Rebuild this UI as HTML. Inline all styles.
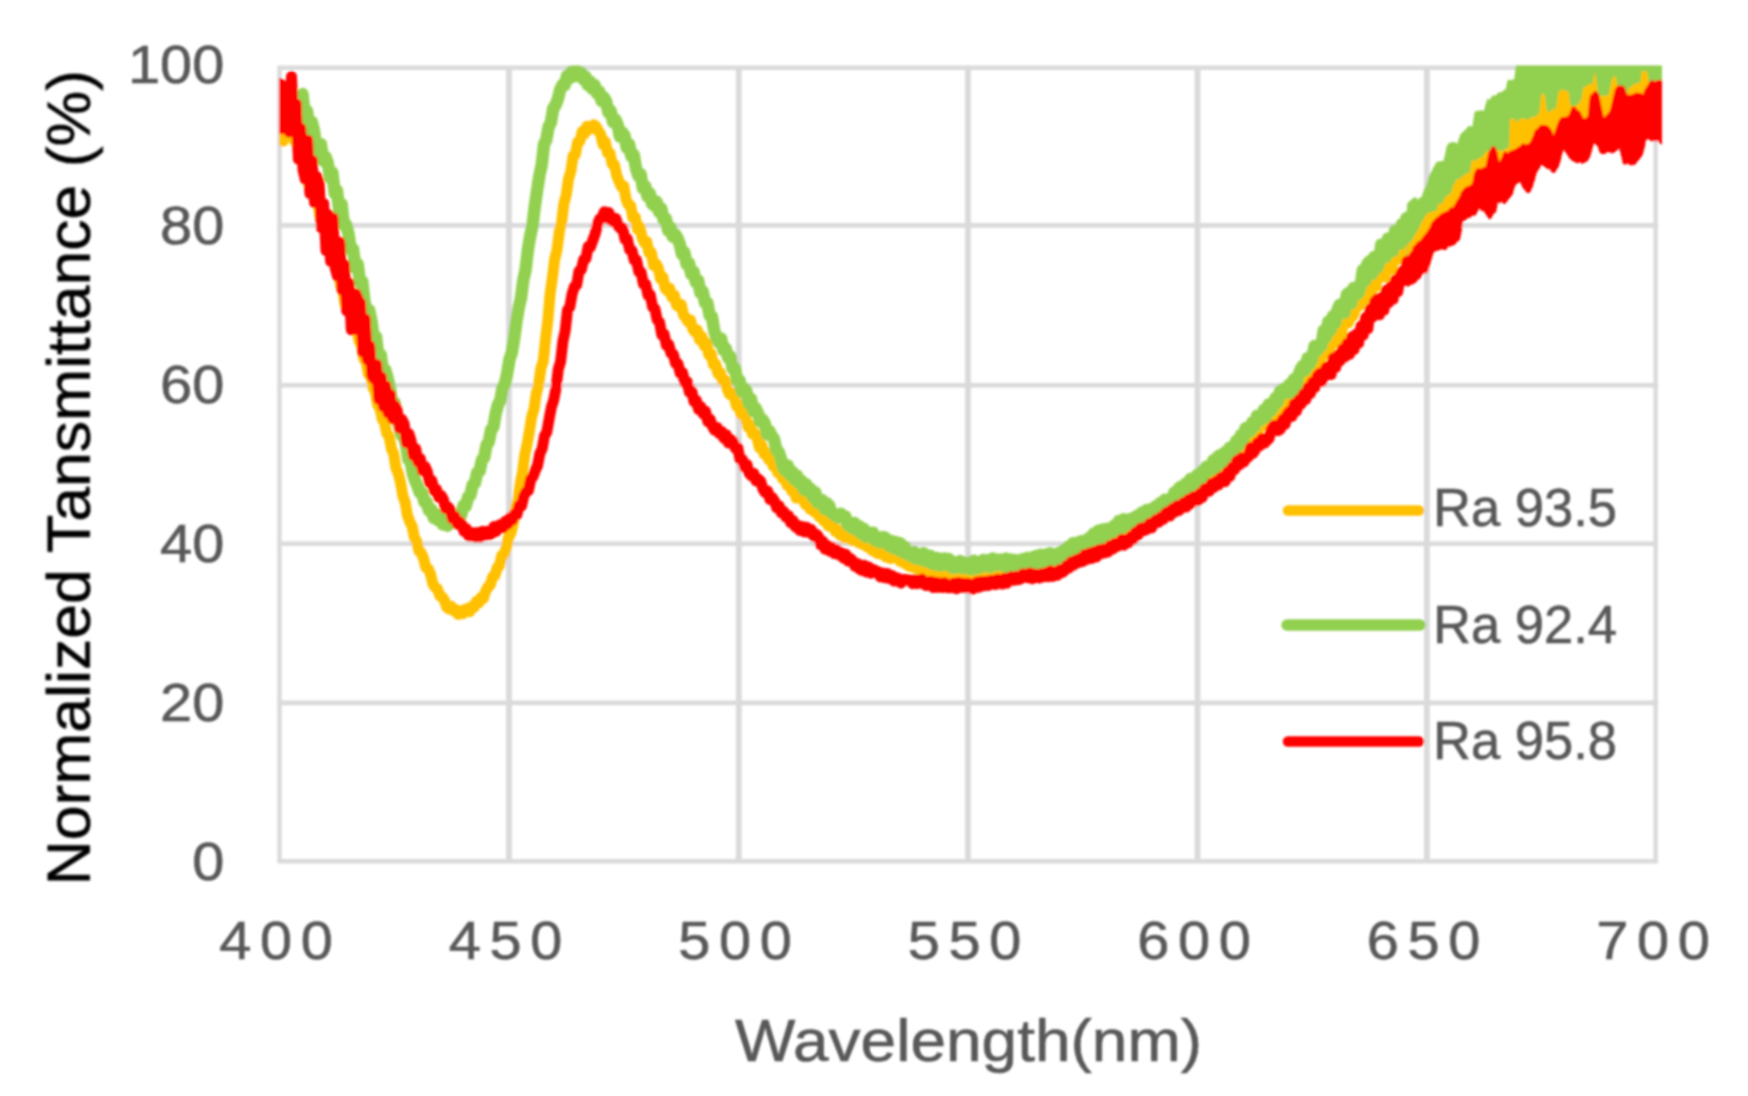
<!DOCTYPE html>
<html lang="en"><head><meta charset="utf-8"><title>Normalized Transmittance</title>
<style>html,body{margin:0;padding:0;background:#fff;}body{width:1748px;height:1096px;overflow:hidden;}svg{display:block;}</style>
</head><body>
<svg width="1748" height="1096" viewBox="0 0 1748 1096">
<defs><clipPath id="pc"><rect x="279" y="65.5" width="1383" height="800"/></clipPath><filter id="bl" x="-2%" y="-2%" width="104%" height="104%"><feGaussianBlur stdDeviation="0.9"/></filter></defs>
<rect width="1748" height="1096" fill="#fff"/>
<g filter="url(#bl)">
<g stroke="#dadada" stroke-width="4.6" fill="none">
<line x1="277.4" y1="67.8" x2="1658.1" y2="67.8"/>
<line x1="277.4" y1="225.4" x2="1658.1" y2="225.4"/>
<line x1="277.4" y1="385.2" x2="1658.1" y2="385.2"/>
<line x1="277.4" y1="543.8" x2="1658.1" y2="543.8"/>
<line x1="277.4" y1="702.9" x2="1658.1" y2="702.9"/>
<line x1="277.4" y1="861.2" x2="1658.1" y2="861.2"/>
<line x1="279.5" y1="67.8" x2="279.5" y2="861" stroke-width="4.4"/>
<line x1="509.0" y1="67.8" x2="509.0" y2="861" stroke-width="5.8"/>
<line x1="738.8" y1="67.8" x2="738.8" y2="861" stroke-width="5.8"/>
<line x1="968.0" y1="67.8" x2="968.0" y2="861" stroke-width="5.8"/>
<line x1="1197.5" y1="67.8" x2="1197.5" y2="861" stroke-width="5.8"/>
<line x1="1426.9" y1="67.8" x2="1426.9" y2="861" stroke-width="5.8"/>
<line x1="1655.6" y1="67.8" x2="1655.6" y2="861" stroke-width="4.4"/>
</g>
<g clip-path="url(#pc)" fill="none" stroke-linejoin="round" stroke-linecap="round">
<path d="M281.0,140.3 L283.3,141.1 L285.6,131.5 L287.9,128.4 L290.2,134.8 L292.5,131.0 L294.8,141.5 L297.1,142.8 L299.4,154.3 L301.7,153.8 L304.0,169.0 L306.3,170.6 L308.6,184.6 L310.9,189.9 L313.2,190.1 L315.5,199.8 L317.8,203.6 L320.1,216.8 L322.4,225.0 L324.7,227.2 L327.0,238.1 L329.3,240.1 L331.6,247.2 L333.9,259.7 L336.2,269.2 L338.5,272.8 L340.8,286.3 L343.1,291.4 L345.4,305.9 L347.7,311.1 L350.0,311.2 L352.3,321.3 L354.6,325.6 L356.9,328.7 L359.2,341.4 L361.5,345.7 L363.8,358.8 L366.1,361.2 L368.4,374.0 L370.7,375.7 L373.0,387.9 L375.3,392.0 L377.6,404.8 L379.9,408.3 L382.2,418.8 L384.5,422.6 L386.8,433.4 L389.1,436.2 L391.4,448.8 L393.7,453.6 L396.0,468.2 L398.3,473.7 L400.6,482.8 L402.9,496.1 L405.2,502.4 L407.5,515.7 L409.8,521.8 L412.1,526.1 L414.4,537.7 L416.7,541.2 L419.0,551.1 L421.3,553.0 L423.6,558.6 L425.9,567.7 L428.2,568.6 L430.5,574.1 L432.8,583.8 L435.1,587.4 L437.4,588.8 L439.7,595.6 L442.0,596.9 L444.3,600.0 L446.6,607.0 L448.9,608.8 L451.2,606.3 L453.5,610.8 L455.8,609.6 L458.1,614.4 L460.4,610.8 L462.7,613.8 L465.0,609.4 L467.3,608.6 L469.6,611.8 L471.9,606.4 L474.2,607.2 L476.5,601.4 L478.8,602.9 L481.1,597.2 L483.4,598.4 L485.7,591.1 L488.0,586.8 L490.3,585.0 L492.6,577.0 L494.9,575.6 L497.2,567.8 L499.5,565.6 L501.8,555.3 L504.1,554.1 L506.4,547.2 L508.7,536.7 L511.0,532.7 L513.3,523.0 L515.6,507.7 L517.9,500.9 L520.2,483.9 L522.5,472.4 L524.8,454.6 L527.1,444.4 L529.4,431.2 L531.7,416.6 L534.0,409.1 L536.3,393.5 L538.6,384.8 L540.9,368.2 L543.2,361.6 L545.5,339.7 L547.8,320.7 L550.1,293.9 L552.4,277.7 L554.7,259.0 L557.0,250.1 L559.3,231.6 L561.6,222.3 L563.9,203.6 L566.2,195.1 L568.5,179.0 L570.8,171.5 L573.1,155.9 L575.4,154.6 L577.7,142.0 L580.0,141.1 L582.3,131.3 L584.6,133.7 L586.9,126.3 L589.2,129.5 L591.5,127.7 L593.8,124.8 L596.1,126.3 L598.4,131.0 L600.7,134.3 L603.0,144.5 L605.3,141.8 L607.6,153.0 L609.9,153.2 L612.2,164.0 L614.5,164.8 L616.8,175.8 L619.1,181.6 L621.4,186.7 L623.7,185.9 L626.0,198.9 L628.3,204.7 L630.6,205.6 L632.9,218.0 L635.2,217.0 L637.5,229.1 L639.8,226.8 L642.1,237.6 L644.4,242.9 L646.7,241.6 L649.0,252.8 L651.3,252.3 L653.6,265.5 L655.9,263.7 L658.2,267.7 L660.5,278.8 L662.8,276.9 L665.1,288.0 L667.4,290.9 L669.7,288.3 L672.0,297.4 L674.3,295.1 L676.6,305.3 L678.9,306.6 L681.2,304.5 L683.5,315.0 L685.8,317.8 L688.1,321.8 L690.4,320.0 L692.7,328.8 L695.0,332.2 L697.3,330.0 L699.6,339.9 L701.9,336.6 L704.2,345.9 L706.5,343.1 L708.8,355.0 L711.1,353.5 L713.4,364.6 L715.7,364.1 L718.0,373.8 L720.3,372.6 L722.6,380.7 L724.9,379.9 L727.2,388.9 L729.5,394.4 L731.8,393.0 L734.1,396.1 L736.4,406.1 L738.7,404.7 L741.0,414.3 L743.3,413.0 L745.6,417.6 L747.9,427.0 L750.2,425.0 L752.5,434.1 L754.8,433.2 L757.1,438.1 L759.4,447.8 L761.7,445.0 L764.0,453.9 L766.3,452.6 L768.6,459.6 L770.9,458.3 L773.2,466.1 L775.5,464.8 L777.8,472.8 L780.1,471.4 L782.4,478.5 L784.7,477.9 L787.0,485.2 L789.3,483.9 L791.6,490.8 L793.9,490.2 L796.2,498.1 L798.5,494.7 L800.8,497.5 L803.1,499.5 L805.4,504.6 L807.7,502.7 L810.0,509.2 L812.3,506.4 L814.6,512.2 L816.9,510.0 L819.2,516.8 L821.5,514.8 L823.8,521.0 L826.1,519.0 L828.4,525.9 L830.7,523.7 L833.0,526.0 L835.3,531.3 L837.6,529.5 L839.9,535.2 L842.2,532.1 L844.5,538.1 L846.8,538.0 L849.1,535.5 L851.4,540.2 L853.7,537.0 L856.0,537.0 L858.3,542.8 L860.6,539.9 L862.9,544.6 L865.2,541.7 L867.5,547.3 L869.8,544.2 L872.1,550.6 L874.4,546.7 L876.7,553.1 L879.0,553.9 L881.3,550.8 L883.6,552.1 L885.9,557.1 L888.2,553.7 L890.5,558.5 L892.8,555.0 L895.1,555.2 L897.4,557.0 L899.7,561.1 L902.0,558.1 L904.3,563.5 L906.6,560.2 L908.9,566.2 L911.2,563.2 L913.5,567.5 L915.8,564.4 L918.1,569.1 L920.4,565.7 L922.7,569.1 L925.0,565.7 L927.3,570.9 L929.6,567.9 L931.9,572.8 L934.2,568.3 L936.5,570.2 L938.8,573.9 L941.1,570.2 L943.4,575.2 L945.7,570.9 L948.0,574.5 L950.3,571.4 L952.6,571.0 L954.9,572.0 L957.2,570.9 L959.5,575.1 L961.8,571.9 L964.1,575.8 L966.4,571.4 L968.7,575.2 L971.0,571.6 L973.3,575.1 L975.6,570.9 L977.9,575.3 L980.2,575.5 L982.5,570.5 L984.8,575.4 L987.1,570.8 L989.4,573.6 L991.7,570.4 L994.0,569.8 L996.3,573.8 L998.6,569.2 L1000.9,571.9 L1003.2,567.5 L1005.5,571.3 L1007.8,566.9 L1010.1,571.4 L1012.4,568.7 L1014.7,572.1 L1017.0,569.0 L1019.3,572.4 L1021.6,567.3 L1023.9,567.8 L1026.2,571.3 L1028.5,565.7 L1030.8,570.2 L1033.1,570.2 L1035.4,565.5 L1037.7,569.3 L1040.0,566.2 L1042.3,569.5 L1044.6,564.4 L1046.9,568.5 L1049.2,563.2 L1051.5,567.6 L1053.8,562.9 L1056.1,566.2 L1058.4,560.1 L1060.7,562.5 L1063.0,558.0 L1065.3,559.9 L1067.6,555.2 L1069.9,558.8 L1072.2,552.6 L1074.5,555.9 L1076.8,554.1 L1079.1,552.9 L1081.4,548.1 L1083.7,546.5 L1086.0,550.2 L1088.3,544.8 L1090.6,547.8 L1092.9,543.1 L1095.2,542.7 L1097.5,544.8 L1099.8,540.1 L1102.1,542.5 L1104.4,541.9 L1106.7,537.2 L1109.0,539.6 L1111.3,534.8 L1113.6,537.8 L1115.9,532.0 L1118.2,535.3 L1120.5,528.5 L1122.8,533.6 L1125.1,531.6 L1127.4,531.2 L1129.7,526.2 L1132.0,529.6 L1134.3,523.3 L1136.6,527.1 L1138.9,520.7 L1141.2,525.4 L1143.5,523.1 L1145.8,517.4 L1148.1,520.6 L1150.4,515.0 L1152.7,518.3 L1155.0,512.8 L1157.3,515.6 L1159.6,510.5 L1161.9,513.9 L1164.2,507.4 L1166.5,511.8 L1168.8,506.0 L1171.1,504.6 L1173.4,501.8 L1175.7,506.0 L1178.0,499.1 L1180.3,503.6 L1182.6,496.6 L1184.9,493.6 L1187.2,498.2 L1189.5,491.0 L1191.8,494.7 L1194.1,491.9 L1196.4,484.9 L1198.7,483.9 L1201.0,481.5 L1203.3,478.4 L1205.6,482.8 L1207.9,474.4 L1210.2,472.4 L1212.5,476.8 L1214.8,469.1 L1217.1,472.0 L1219.4,465.1 L1221.7,468.1 L1224.0,461.9 L1226.3,457.7 L1228.6,455.6 L1230.9,453.0 L1233.2,456.7 L1235.5,447.5 L1237.8,450.9 L1240.1,449.5 L1242.4,441.4 L1244.7,440.5 L1247.0,443.8 L1249.3,436.3 L1251.6,431.9 L1253.9,436.8 L1256.2,426.8 L1258.5,430.0 L1260.8,422.1 L1263.1,420.3 L1265.4,424.7 L1267.7,416.7 L1270.0,422.5 L1272.3,419.7 L1274.6,412.1 L1276.9,416.7 L1279.2,406.8 L1281.5,412.3 L1283.8,409.8 L1286.1,399.3 L1288.4,403.9 L1290.7,393.6 L1293.0,397.8 L1295.3,395.2 L1297.6,385.5 L1299.9,387.5 L1302.2,377.3 L1304.5,382.3 L1306.8,370.2 L1309.1,376.2 L1311.4,365.5 L1313.7,370.1 L1316.0,357.1 L1318.3,363.1 L1320.6,360.0 L1322.9,347.8 L1325.2,354.2 L1327.5,340.9 L1329.8,348.2 L1332.1,335.2 L1334.4,342.9 L1336.7,332.2 L1339.0,339.1 L1341.3,335.0 L1343.6,319.9 L1345.9,314.9 L1348.2,323.0 L1350.5,317.1 L1352.8,316.2 L1355.1,310.2 L1357.4,298.5 L1359.7,305.6 L1362.0,292.7 L1364.3,300.0 L1366.6,295.1 L1368.9,283.1 L1371.2,291.4 L1373.5,275.0 L1375.8,286.7 L1378.1,274.2 L1380.4,268.1 L1382.7,266.3 L1385.0,277.0 L1387.3,262.1 L1389.6,257.6 L1391.9,269.3 L1394.2,249.9 L1396.5,260.0 L1398.8,245.3 L1401.1,257.2 L1403.4,242.3 L1405.7,252.6 L1408.0,236.8 L1410.3,247.2 L1412.6,246.3 L1414.9,229.8 L1417.2,240.2" stroke="#ffc000" stroke-width="11"/>
<path d="M302.5,94.1 L304.8,115.0 L307.1,111.0 L309.4,129.8 L311.7,121.7 L314.0,130.5 L316.3,148.2 L318.6,151.5 L320.9,144.1 L323.2,160.8 L325.5,156.7 L327.8,163.2 L330.1,177.8 L332.4,172.8 L334.7,193.3 L337.0,190.5 L339.3,211.4 L341.6,204.2 L343.9,225.1 L346.2,224.7 L348.5,233.9 L350.8,249.9 L353.1,249.0 L355.4,268.2 L357.7,263.9 L360.0,282.6 L362.3,281.6 L364.6,302.4 L366.9,312.4 L369.2,310.3 L371.5,321.4 L373.8,338.9 L376.1,336.9 L378.4,357.1 L380.7,354.6 L383.0,371.7 L385.3,370.0 L387.6,378.1 L389.9,388.1 L392.2,405.9 L394.5,402.4 L396.8,418.6 L399.1,425.1 L401.4,435.1 L403.7,436.6 L406.0,443.4 L408.3,459.4 L410.6,461.0 L412.9,473.8 L415.2,480.8 L417.5,486.0 L419.8,492.7 L422.1,493.2 L424.4,501.8 L426.7,502.4 L429.0,510.5 L431.3,509.3 L433.6,517.7 L435.9,514.2 L438.2,520.3 L440.5,518.0 L442.8,524.4 L445.1,520.6 L447.4,525.7 L449.7,519.8 L452.0,523.1 L454.3,517.2 L456.6,521.2 L458.9,514.6 L461.2,514.9 L463.5,505.8 L465.8,505.9 L468.1,497.1 L470.4,495.2 L472.7,484.8 L475.0,482.9 L477.3,472.2 L479.6,471.3 L481.9,459.9 L484.2,457.7 L486.5,445.1 L488.8,441.9 L491.1,429.8 L493.4,427.0 L495.7,413.5 L498.0,404.7 L500.3,400.7 L502.6,387.7 L504.9,383.9 L507.2,373.2 L509.5,359.3 L511.8,352.7 L514.1,339.0 L516.4,321.8 L518.7,307.9 L521.0,298.1 L523.3,280.0 L525.6,269.8 L527.9,250.0 L530.2,236.1 L532.5,225.7 L534.8,206.3 L537.1,190.7 L539.4,175.5 L541.7,165.1 L544.0,144.5 L546.3,139.7 L548.6,126.8 L550.9,122.6 L553.2,108.5 L555.5,105.3 L557.8,99.3 L560.1,90.0 L562.4,85.1 L564.7,85.1 L567.0,75.9 L569.3,78.4 L571.6,71.7 L573.9,76.3 L576.2,70.3 L578.5,75.4 L580.8,72.6 L583.1,79.3 L585.4,76.5 L587.7,84.9 L590.0,81.5 L592.3,88.8 L594.6,85.1 L596.9,93.4 L599.2,91.5 L601.5,100.8 L603.8,97.5 L606.1,101.2 L608.4,112.6 L610.7,111.0 L613.0,122.0 L615.3,119.4 L617.6,124.5 L619.9,136.5 L622.2,132.4 L624.5,135.6 L626.8,147.9 L629.1,144.3 L631.4,156.3 L633.7,154.6 L636.0,168.1 L638.3,175.7 L640.6,174.2 L642.9,188.2 L645.2,186.1 L647.5,196.5 L649.8,193.3 L652.1,203.8 L654.4,205.7 L656.7,201.8 L659.0,211.9 L661.3,208.4 L663.6,219.7 L665.9,218.6 L668.2,230.5 L670.5,227.4 L672.8,236.7 L675.1,234.3 L677.4,237.9 L679.7,244.0 L682.0,254.1 L684.3,252.3 L686.6,264.2 L688.9,263.0 L691.2,274.1 L693.5,271.6 L695.8,282.2 L698.1,280.4 L700.4,292.9 L702.7,291.4 L705.0,302.6 L707.3,302.7 L709.6,315.4 L711.9,316.5 L714.2,330.5 L716.5,337.8 L718.8,342.7 L721.1,338.4 L723.4,350.1 L725.7,348.5 L728.0,357.5 L730.3,356.4 L732.6,368.9 L734.9,368.0 L737.2,380.5 L739.5,380.3 L741.8,391.5 L744.1,388.2 L746.4,391.1 L748.7,403.6 L751.0,398.9 L753.3,411.1 L755.6,408.2 L757.9,412.9 L760.2,421.6 L762.5,419.6 L764.8,423.5 L767.1,434.4 L769.4,431.1 L771.7,435.7 L774.0,439.0 L776.3,450.0 L778.6,451.7 L780.9,458.9 L783.2,467.7 L785.5,471.0 L787.8,465.5 L790.1,475.1 L792.4,471.9 L794.7,479.9 L797.0,475.6 L799.3,483.6 L801.6,480.9 L803.9,489.5 L806.2,484.2 L808.5,491.8 L810.8,489.0 L813.1,497.5 L815.4,492.5 L817.7,502.8 L820.0,503.1 L822.3,500.3 L824.6,508.9 L826.9,503.3 L829.2,505.6 L831.5,512.9 L833.8,514.1 L836.1,516.1 L838.4,517.6 L840.7,513.7 L843.0,516.0 L845.3,516.6 L847.6,524.9 L849.9,526.0 L852.2,528.2 L854.5,522.9 L856.8,530.1 L859.1,526.2 L861.4,534.0 L863.7,528.7 L866.0,536.9 L868.3,532.6 L870.6,533.2 L872.9,532.9 L875.2,540.5 L877.5,540.7 L879.8,542.3 L882.1,537.3 L884.4,537.2 L886.7,539.3 L889.0,545.8 L891.3,540.9 L893.6,548.1 L895.9,542.0 L898.2,550.0 L900.5,543.3 L902.8,552.4 L905.1,547.1 L907.4,554.2 L909.7,554.8 L912.0,556.5 L914.3,552.1 L916.6,558.6 L918.9,558.2 L921.2,559.6 L923.5,553.1 L925.8,561.2 L928.1,555.8 L930.4,556.0 L932.7,563.9 L935.0,564.2 L937.3,558.0 L939.6,565.6 L941.9,564.6 L944.2,558.4 L946.5,564.8 L948.8,559.0 L951.1,566.7 L953.4,568.0 L955.7,562.3 L958.0,567.5 L960.3,561.1 L962.6,568.0 L964.9,562.7 L967.2,568.3 L969.5,562.5 L971.8,569.4 L974.1,560.7 L976.4,567.6 L978.7,568.3 L981.0,561.7 L983.3,560.0 L985.6,566.1 L987.9,560.2 L990.2,567.0 L992.5,558.6 L994.8,559.2 L997.1,565.1 L999.4,559.7 L1001.7,559.8 L1004.0,566.0 L1006.3,558.6 L1008.6,567.4 L1010.9,559.6 L1013.2,567.4 L1015.5,559.9 L1017.8,566.0 L1020.1,565.4 L1022.4,559.3 L1024.7,566.3 L1027.0,558.0 L1029.3,564.0 L1031.6,557.4 L1033.9,564.7 L1036.2,555.9 L1038.5,562.9 L1040.8,554.7 L1043.1,562.7 L1045.4,554.8 L1047.7,554.3 L1050.0,553.2 L1052.3,560.4 L1054.6,554.5 L1056.9,559.8 L1059.2,552.7 L1061.5,557.9 L1063.8,550.0 L1066.1,554.6 L1068.4,546.6 L1070.7,551.2 L1073.0,543.2 L1075.3,549.7 L1077.6,542.5 L1079.9,548.0 L1082.2,540.9 L1084.5,546.4 L1086.8,545.7 L1089.1,538.0 L1091.4,542.5 L1093.7,533.7 L1096.0,538.1 L1098.3,530.8 L1100.6,538.4 L1102.9,529.4 L1105.2,536.6 L1107.5,528.8 L1109.8,533.2 L1112.1,531.7 L1114.4,525.3 L1116.7,530.2 L1119.0,520.9 L1121.3,528.6 L1123.6,519.3 L1125.9,520.5 L1128.2,519.6 L1130.5,524.8 L1132.8,518.0 L1135.1,522.6 L1137.4,515.6 L1139.7,519.9 L1142.0,512.4 L1144.3,517.2 L1146.6,510.1 L1148.9,515.4 L1151.2,509.1 L1153.5,515.4 L1155.8,506.2 L1158.1,511.5 L1160.4,502.9 L1162.7,507.9 L1165.0,499.7 L1167.3,504.3 L1169.6,502.0 L1171.9,500.8 L1174.2,492.6 L1176.5,498.6 L1178.8,488.5 L1181.1,486.7 L1183.4,490.9 L1185.7,483.6 L1188.0,488.4 L1190.3,479.1 L1192.6,485.1 L1194.9,483.1 L1197.2,474.9 L1199.5,478.8 L1201.8,471.3 L1204.1,476.7 L1206.4,466.8 L1208.7,466.2 L1211.0,469.7 L1213.3,460.3 L1215.6,467.5 L1217.9,456.8 L1220.2,455.3 L1222.5,462.4 L1224.8,452.4 L1227.1,457.2 L1229.4,447.9 L1231.7,447.1 L1234.0,450.6 L1236.3,440.9 L1238.6,445.4 L1240.9,434.9 L1243.2,439.1 L1245.5,428.2 L1247.8,427.6 L1250.1,431.3 L1252.4,422.3 L1254.7,426.3 L1257.0,416.0 L1259.3,415.6 L1261.6,419.5 L1263.9,409.8 L1266.2,416.3 L1268.5,404.6 L1270.8,410.7 L1273.1,407.4 L1275.4,398.2 L1277.7,402.1 L1280.0,391.3 L1282.3,389.9 L1284.6,388.4 L1286.9,393.1 L1289.2,384.6 L1291.5,392.1 L1293.8,379.4 L1296.1,386.9 L1298.4,375.2 L1300.7,369.2 L1303.0,365.7 L1305.3,370.1 L1307.6,358.2 L1309.9,363.9 L1312.2,358.6 L1314.5,346.1 L1316.8,350.6 L1319.1,347.6 L1321.4,345.8 L1323.7,330.6 L1326.0,337.1 L1328.3,321.8 L1330.6,330.2 L1332.9,316.2 L1335.2,323.0 L1337.5,310.0 L1339.8,304.7 L1342.1,312.5 L1344.4,312.8 L1346.7,294.7 L1349.0,292.7 L1351.3,303.2 L1353.6,288.0 L1355.9,294.4 L1358.2,293.3 L1360.5,286.9 L1362.8,270.3 L1365.1,280.7 L1367.4,264.0 L1369.7,261.2 L1372.0,273.8 L1374.3,256.9 L1376.6,268.3 L1378.9,263.9 L1381.2,244.7 L1383.5,256.8 L1385.8,256.8 L1388.1,238.5 L1390.4,238.5 L1392.7,251.1 L1395.0,230.9 L1397.3,230.3 L1399.6,243.8 L1401.9,224.3 L1404.2,239.3 L1406.5,218.3 L1408.8,217.2 L1411.1,231.7 L1413.4,206.0 L1415.7,223.9 L1418.0,218.5" stroke="#92d050" stroke-width="12.5"/>
<path d="M280.0,83.8 L282.3,128.8 L284.6,119.3 L286.9,85.9 L289.2,132.1 L291.5,76.5 L293.8,130.0 L296.1,103.9 L298.4,159.2 L300.7,128.4 L303.0,169.7 L305.3,179.4 L307.6,140.2 L309.9,193.6 L312.2,160.6 L314.5,202.6 L316.8,176.8 L319.1,182.9 L321.4,227.9 L323.7,203.8 L326.0,250.7 L328.3,214.8 L330.6,261.3 L332.9,217.9 L335.2,268.0 L337.5,276.2 L339.8,242.2 L342.1,290.1 L344.4,264.7 L346.7,310.8 L349.0,283.2 L351.3,329.8 L353.6,329.6 L355.9,293.9 L358.2,299.5 L360.5,302.9 L362.8,352.3 L365.1,319.1 L367.4,359.8 L369.7,346.0 L372.0,376.2 L374.3,379.3 L376.6,364.8 L378.9,399.4 L381.2,377.0 L383.5,406.9 L385.8,386.0 L388.1,413.0 L390.4,394.8 L392.7,418.8 L395.0,405.7 L397.3,411.0 L399.6,428.5 L401.9,419.4 L404.2,424.2 L406.5,442.8 L408.8,433.5 L411.1,440.8 L413.4,455.6 L415.7,448.7 L418.0,462.0 L420.3,458.5 L422.6,470.8 L424.9,466.4 L427.2,471.3 L429.5,482.6 L431.8,480.6 L434.1,490.6 L436.4,489.2 L438.7,497.1 L441.0,495.3 L443.3,499.2 L445.6,508.6 L447.9,506.8 L450.2,509.9 L452.5,518.8 L454.8,516.2 L457.1,523.9 L459.4,521.5 L461.7,524.3 L464.0,531.3 L466.3,528.7 L468.6,535.9 L470.9,536.0 L473.2,532.7 L475.5,537.1 L477.8,532.5 L480.1,537.0 L482.4,531.3 L484.7,535.4 L487.0,531.3 L489.3,534.7 L491.6,533.6 L493.9,526.6 L496.2,531.3 L498.5,525.7 L500.8,524.4 L503.1,527.7 L505.4,521.3 L507.7,524.2 L510.0,517.6 L512.3,520.1 L514.6,513.9 L516.9,514.6 L519.2,505.5 L521.5,506.1 L523.8,496.0 L526.1,492.0 L528.4,490.6 L530.7,479.5 L533.0,476.6 L535.3,470.4 L537.6,465.4 L539.9,453.3 L542.2,448.6 L544.5,435.8 L546.8,432.1 L549.1,419.1 L551.4,407.0 L553.7,400.3 L556.0,388.3 L558.3,369.2 L560.6,361.7 L562.9,341.3 L565.2,330.9 L567.5,310.0 L569.8,307.0 L572.1,294.0 L574.4,286.6 L576.7,284.8 L579.0,271.1 L581.3,269.9 L583.6,259.7 L585.9,258.8 L588.2,246.6 L590.5,247.0 L592.8,240.4 L595.1,234.1 L597.4,224.6 L599.7,219.0 L602.0,217.6 L604.3,211.7 L606.6,218.0 L608.9,212.6 L611.2,220.6 L613.5,221.7 L615.8,218.4 L618.1,225.8 L620.4,228.4 L622.7,228.3 L625.0,239.2 L627.3,239.0 L629.6,249.6 L631.9,250.2 L634.2,260.1 L636.5,260.2 L638.8,271.7 L641.1,272.3 L643.4,284.0 L645.7,284.2 L648.0,295.1 L650.3,295.1 L652.6,307.0 L654.9,309.0 L657.2,319.9 L659.5,322.1 L661.8,334.9 L664.1,334.2 L666.4,345.4 L668.7,344.4 L671.0,353.3 L673.3,354.1 L675.6,363.3 L677.9,363.6 L680.2,373.1 L682.5,372.5 L684.8,382.8 L687.1,381.7 L689.4,392.2 L691.7,391.0 L694.0,401.6 L696.3,400.3 L698.6,409.5 L700.9,406.8 L703.2,413.9 L705.5,411.3 L707.8,421.6 L710.1,419.2 L712.4,426.3 L714.7,430.3 L717.0,427.4 L719.3,433.6 L721.6,431.4 L723.9,438.2 L726.2,434.7 L728.5,443.0 L730.8,439.4 L733.1,441.1 L735.4,448.3 L737.7,447.5 L740.0,459.2 L742.3,459.5 L744.6,467.3 L746.9,464.5 L749.2,473.3 L751.5,476.0 L753.8,473.4 L756.1,481.0 L758.4,479.0 L760.7,481.4 L763.0,489.2 L765.3,492.7 L767.6,490.9 L769.9,499.4 L772.2,497.5 L774.5,501.0 L776.8,507.9 L779.1,505.7 L781.4,512.8 L783.7,511.4 L786.0,517.3 L788.3,515.5 L790.6,522.6 L792.9,520.3 L795.2,526.7 L797.5,525.2 L799.8,530.5 L802.1,526.6 L804.4,532.0 L806.7,527.2 L809.0,532.5 L811.3,529.5 L813.6,536.2 L815.9,533.9 L818.2,536.2 L820.5,544.6 L822.8,541.2 L825.1,549.2 L827.4,545.5 L829.7,551.1 L832.0,547.2 L834.3,553.6 L836.6,549.5 L838.9,554.9 L841.2,552.5 L843.5,558.2 L845.8,554.2 L848.1,561.0 L850.4,558.5 L852.7,560.7 L855.0,566.3 L857.3,563.4 L859.6,569.2 L861.9,570.4 L864.2,565.2 L866.5,572.0 L868.8,567.0 L871.1,573.2 L873.4,569.4 L875.7,570.9 L878.0,571.5 L880.3,577.0 L882.6,572.9 L884.9,577.8 L887.2,573.4 L889.5,578.6 L891.8,575.5 L894.1,581.1 L896.4,577.7 L898.7,578.6 L901.0,583.1 L903.3,579.5 L905.6,579.4 L907.9,580.1 L910.2,580.0 L912.5,583.7 L914.8,579.8 L917.1,583.8 L919.4,580.0 L921.7,579.2 L924.0,584.1 L926.3,585.6 L928.6,581.7 L930.9,581.4 L933.2,587.6 L935.5,582.2 L937.8,587.5 L940.1,583.1 L942.4,587.6 L944.7,582.7 L947.0,587.5 L949.3,587.8 L951.6,587.6 L953.9,582.9 L956.2,588.8 L958.5,582.4 L960.8,587.2 L963.1,583.2 L965.4,587.8 L967.7,583.3 L970.0,584.3 L972.3,589.1 L974.6,588.2 L976.9,581.9 L979.2,587.3 L981.5,581.4 L983.8,585.8 L986.1,581.2 L988.4,585.4 L990.7,580.3 L993.0,584.0 L995.3,584.5 L997.6,579.4 L999.9,579.8 L1002.2,584.1 L1004.5,578.2 L1006.8,583.2 L1009.1,577.6 L1011.4,576.8 L1013.7,580.3 L1016.0,576.3 L1018.3,579.6 L1020.6,579.0 L1022.9,574.1 L1025.2,574.2 L1027.5,577.7 L1029.8,573.0 L1032.1,578.8 L1034.4,574.1 L1036.7,574.4 L1039.0,578.0 L1041.3,573.8 L1043.6,576.9 L1045.9,572.7 L1048.2,576.7 L1050.5,570.8 L1052.8,576.4 L1055.1,572.0 L1057.4,575.2 L1059.7,569.6 L1062.0,572.7 L1064.3,570.9 L1066.6,565.3 L1068.9,568.1 L1071.2,561.7 L1073.5,565.2 L1075.8,560.0 L1078.1,562.7 L1080.4,558.0 L1082.7,561.5 L1085.0,554.4 L1087.3,559.3 L1089.6,552.9 L1091.9,558.4 L1094.2,551.6 L1096.5,556.9 L1098.8,549.8 L1101.1,553.7 L1103.4,548.9 L1105.7,552.6 L1108.0,551.9 L1110.3,545.4 L1112.6,549.1 L1114.9,543.3 L1117.2,546.4 L1119.5,544.9 L1121.8,539.3 L1124.1,545.2 L1126.4,539.6 L1128.7,542.6 L1131.0,536.2 L1133.3,539.1 L1135.6,531.9 L1137.9,535.3 L1140.2,528.3 L1142.5,527.8 L1144.8,530.4 L1147.1,529.3 L1149.4,523.5 L1151.7,527.8 L1154.0,521.7 L1156.3,519.5 L1158.6,522.2 L1160.9,516.9 L1163.2,519.4 L1165.5,513.2 L1167.8,511.8 L1170.1,515.9 L1172.4,508.5 L1174.7,512.2 L1177.0,505.8 L1179.3,510.4 L1181.6,504.4 L1183.9,502.2 L1186.2,507.1 L1188.5,499.3 L1190.8,503.8 L1193.1,497.0 L1195.4,496.3 L1197.7,500.7 L1200.0,493.4 L1202.3,497.4 L1204.6,488.7 L1206.9,488.0 L1209.2,491.3 L1211.5,483.4 L1213.8,487.4 L1216.1,481.1 L1218.4,485.1 L1220.7,477.5 L1223.0,476.5 L1225.3,481.5 L1227.6,471.8 L1229.9,476.4 L1232.2,466.9 L1234.5,469.8 L1236.8,460.6 L1239.1,465.2 L1241.4,457.7 L1243.7,462.2 L1246.0,458.5 L1248.3,457.0 L1250.6,447.5 L1252.9,453.4 L1255.2,450.1 L1257.5,442.7 L1259.8,445.9 L1262.1,438.4 L1264.4,443.1 L1266.7,440.7 L1269.0,438.7 L1271.3,429.4 L1273.6,425.9 L1275.9,425.3 L1278.2,430.7 L1280.5,429.0 L1282.8,419.1 L1285.1,424.2 L1287.4,413.9 L1289.7,411.3 L1292.0,416.5 L1294.3,403.8 L1296.6,411.0 L1298.9,399.6 L1301.2,404.1 L1303.5,393.8 L1305.8,399.6 L1308.1,387.6 L1310.4,393.7 L1312.7,382.0 L1315.0,387.4 L1317.3,376.0 L1319.6,373.5 L1321.9,381.4 L1324.2,371.7 L1326.5,367.1 L1328.8,374.6 L1331.1,374.4 L1333.4,357.9 L1335.7,367.5 L1338.0,355.1 L1340.3,360.8 L1342.6,349.0 L1344.9,356.7 L1347.2,343.6 L1349.5,354.3 L1351.8,336.8 L1354.1,349.5 L1356.4,333.9 L1358.7,343.1 L1361.0,326.0 L1363.3,335.0 L1365.6,317.6 L1367.9,328.7 L1370.2,309.1 L1372.5,317.0 L1374.8,301.7 L1377.1,299.1 L1379.4,314.8 L1381.7,297.5 L1384.0,310.2 L1386.3,290.3 L1388.6,302.6 L1390.9,286.5 L1393.2,299.1 L1395.5,280.0 L1397.8,291.8 L1400.1,275.6 L1402.4,271.3 L1404.7,280.5 L1407.0,261.4 L1409.3,279.6 L1411.6,257.4 L1413.9,275.4 L1416.2,274.9" stroke="#ff0000" stroke-width="11"/>
<polygon points="1408,204.1 1409,203.1 1410,202.1 1411,201.2 1412,200.2 1413,199.2 1414,198.3 1415,198.3 1416,198.3 1417,200.2 1418,200.2 1419,200.2 1420,198.0 1421,198.0 1422,198.0 1423,194.9 1424,191.9 1425,189.0 1426,188.0 1427,185.1 1428,182.4 1429,178.2 1430,176.0 1431,173.8 1432,172.2 1433,170.0 1434,167.8 1435,166.5 1436,164.3 1437,162.5 1438,162.4 1439,162.2 1440,161.9 1441,162.1 1442,161.8 1443,161.6 1444,162.4 1445,157.9 1446,153.5 1447,148.1 1448,144.9 1449,144.8 1450,143.2 1451,143.1 1452,142.9 1453,143.1 1454,143.0 1455,142.8 1456,144.4 1457,144.2 1458,144.1 1459,140.7 1460,137.7 1461,134.7 1462,134.2 1463,132.7 1464,132.2 1465,130.6 1466,130.1 1467,129.6 1468,127.4 1469,126.9 1470,126.4 1471,128.0 1472,127.5 1473,127.0 1474,120.5 1475,113.3 1476,111.8 1477,111.8 1478,111.6 1479,111.4 1480,111.3 1481,111.1 1482,110.9 1483,112.1 1484,111.9 1485,109.8 1486,105.4 1487,102.5 1488,99.5 1489,100.8 1490,100.2 1491,99.6 1492,97.1 1493,96.5 1494,95.9 1495,96.7 1496,96.1 1497,95.5 1498,93.7 1499,93.3 1500,92.9 1501,92.8 1502,92.5 1503,92.1 1504,90.9 1505,90.5 1506,90.1 1507,87.3 1508,81.2 1509,80.4 1510,81.3 1511,81.0 1512,80.8 1513,80.2 1514,80.0 1515,79.7 1516,70.6 1517,63.3 1518,63.3 1519,61.0 1520,61.0 1521,61.0 1522,61.0 1523,61.0 1524,61.0 1525,62.3 1526,62.3 1527,62.3 1528,60.5 1529,60.5 1530,60.5 1531,62.7 1532,62.7 1533,62.7 1534,62.3 1535,62.3 1536,62.3 1537,62.7 1538,62.7 1539,62.7 1540,62.2 1541,62.2 1542,62.2 1543,61.3 1544,61.3 1545,61.3 1546,60.5 1547,60.5 1548,60.5 1549,60.6 1550,60.6 1551,60.6 1552,62.2 1553,62.2 1554,62.2 1555,63.3 1556,63.3 1557,63.3 1558,62.6 1559,62.6 1560,62.6 1561,60.5 1562,60.5 1563,60.5 1564,62.6 1565,62.6 1566,62.6 1567,62.4 1568,62.4 1569,62.4 1570,61.4 1571,61.4 1572,61.4 1573,62.1 1574,62.1 1575,62.1 1576,62.8 1577,62.8 1578,62.8 1579,63.3 1580,63.3 1581,63.3 1582,63.3 1583,63.3 1584,63.3 1585,62.9 1586,62.9 1587,62.9 1588,62.4 1589,62.4 1590,62.4 1591,62.3 1592,62.3 1593,62.3 1594,63.6 1595,63.6 1596,63.6 1597,61.6 1598,61.6 1599,61.6 1600,61.8 1601,61.8 1602,61.8 1603,62.8 1604,62.8 1605,62.8 1606,61.9 1607,61.9 1608,61.9 1609,62.0 1610,62.0 1611,62.0 1612,61.2 1613,61.2 1614,61.2 1615,62.6 1616,62.6 1617,62.6 1618,63.3 1619,63.3 1620,63.3 1621,63.3 1622,63.3 1623,63.3 1624,61.0 1625,61.0 1626,61.0 1627,63.3 1628,63.3 1629,63.3 1630,62.3 1631,62.3 1632,62.3 1633,62.0 1634,62.0 1635,62.0 1636,62.7 1637,62.7 1638,62.7 1639,60.9 1640,60.9 1641,60.9 1642,61.1 1643,61.1 1644,61.1 1645,62.0 1646,62.0 1647,62.0 1648,63.5 1649,63.5 1650,63.5 1651,60.5 1652,60.5 1653,60.5 1654,62.7 1655,62.7 1656,62.7 1657,62.9 1658,62.9 1659,62.9 1660,61.9 1661,61.9 1662,61.9 1663,61.2 1663,143.3 1662,143.5 1661,143.0 1660,142.4 1659,140.4 1658,140.0 1657,140.0 1656,140.3 1655,140.3 1654,140.3 1653,140.2 1652,140.2 1651,140.2 1650,138.2 1649,138.2 1648,138.2 1647,138.4 1646,138.4 1645,139.9 1644,146.0 1643,149.8 1642,153.6 1641,155.7 1640,157.0 1639,158.2 1638,159.3 1637,160.6 1636,161.8 1635,163.4 1634,164.0 1633,164.0 1632,164.2 1631,164.2 1630,164.2 1629,162.4 1628,162.4 1627,162.4 1626,163.4 1625,163.4 1624,163.4 1623,159.2 1622,155.2 1621,151.2 1620,147.8 1619,147.4 1618,147.9 1617,149.3 1616,149.8 1615,150.3 1614,151.6 1613,152.1 1612,152.3 1611,151.5 1610,151.5 1609,151.5 1608,151.1 1607,151.1 1606,151.1 1605,153.1 1604,153.1 1603,153.1 1602,153.1 1601,152.3 1600,150.8 1599,147.0 1598,145.5 1597,144.0 1596,143.6 1595,142.1 1594,141.6 1593,143.2 1592,146.5 1591,149.9 1590,153.7 1589,157.0 1588,158.2 1587,160.4 1586,160.7 1585,161.1 1584,162.1 1583,162.4 1582,162.8 1581,160.6 1580,161.0 1579,161.3 1578,162.3 1577,162.0 1576,161.5 1575,161.1 1574,160.6 1573,160.1 1572,159.0 1571,158.5 1570,157.6 1569,155.7 1568,154.2 1567,152.7 1566,151.5 1565,150.0 1564,148.5 1563,147.7 1562,151.1 1561,154.4 1560,159.1 1559,162.4 1558,165.7 1557,167.5 1556,169.0 1555,170.5 1554,172.1 1553,171.7 1552,171.2 1551,169.1 1550,168.5 1549,167.9 1548,168.0 1547,167.5 1546,166.9 1545,165.8 1544,165.2 1543,164.6 1542,163.8 1541,163.4 1540,164.8 1539,167.7 1538,169.0 1537,170.3 1536,171.9 1535,175.1 1534,179.5 1533,181.9 1532,186.3 1531,187.4 1530,191.0 1529,191.6 1528,192.3 1527,191.1 1526,190.4 1525,188.4 1524,188.0 1523,186.0 1522,184.0 1521,180.9 1520,180.9 1519,180.9 1518,182.5 1517,182.5 1516,183.6 1515,183.5 1514,186.3 1513,189.1 1512,193.4 1511,195.0 1510,196.2 1509,197.3 1508,198.6 1507,199.8 1506,201.4 1505,202.6 1504,203.0 1503,201.2 1502,200.7 1501,200.2 1500,202.2 1499,201.7 1498,201.2 1497,201.7 1496,207.5 1495,212.0 1494,211.6 1493,213.1 1492,214.6 1491,216.8 1490,218.3 1489,217.6 1488,215.6 1487,214.3 1486,213.1 1485,211.1 1484,209.9 1483,208.6 1482,210.1 1481,208.9 1480,207.6 1479,205.6 1478,208.2 1477,211.1 1476,212.2 1475,214.5 1474,214.5 1473,214.7 1472,214.7 1471,214.7 1470,216.7 1469,216.7 1468,216.7 1467,217.5 1466,218.5 1465,219.5 1464,218.3 1463,219.3 1462,221.8 1461,229.4 1460,234.4 1459,239.3 1458,240.1 1457,240.7 1456,241.4 1455,243.2 1454,243.9 1453,244.6 1452,244.4 1451,245.1 1450,245.7 1449,245.0 1448,245.7 1447,246.1 1446,248.7 1445,248.9 1444,249.1 1443,248.1 1442,248.3 1441,248.6 1440,248.9 1439,249.2 1438,249.4 1437,249.9 1436,250.1 1435,250.3 1434,251.1 1433,251.3 1432,254.8 1431,257.8 1430,261.3 1429,264.8 1428,268.1 1427,271.6 1426,272.5 1425,271.6 1424,272.4 1423,273.3 1422,273.6 1421,274.4 1420,275.2 1419,276.6 1418,277.4 1417,278.3 1416,281.0 1415,281.9 1414,282.7 1413,282.4 1412,283.2 1411,284.0 1410,283.9 1409,284.9 1408,285.9" fill="#92d050" stroke="#92d050" stroke-width="1.5"/>
<polygon points="1408,244.6 1409,243.4 1410,242.2 1411,241.0 1412,239.8 1413,238.6 1414,236.6 1415,234.7 1416,232.8 1417,232.1 1418,230.3 1419,228.4 1420,225.6 1421,223.7 1422,221.8 1423,220.2 1424,218.4 1425,216.5 1426,215.0 1427,213.2 1428,211.9 1429,213.2 1430,212.9 1431,212.7 1432,211.1 1433,210.9 1434,210.6 1435,211.8 1436,210.6 1437,209.5 1438,205.3 1439,204.2 1440,203.0 1441,204.4 1442,203.3 1443,202.2 1444,199.1 1445,197.9 1446,196.8 1447,196.0 1448,194.9 1449,193.8 1450,193.9 1451,192.8 1452,189.9 1453,185.5 1454,183.9 1455,182.9 1456,180.2 1457,179.2 1458,178.3 1459,179.9 1460,178.9 1461,177.9 1462,176.6 1463,175.9 1464,175.4 1465,174.1 1466,173.6 1467,173.1 1468,173.8 1469,173.3 1470,171.1 1471,163.6 1472,160.4 1473,160.0 1474,161.0 1475,160.7 1476,160.4 1477,159.1 1478,158.8 1479,158.4 1480,157.4 1481,157.1 1482,156.8 1483,155.8 1484,154.3 1485,152.9 1486,151.5 1487,151.1 1488,151.0 1489,151.0 1490,150.9 1491,150.7 1492,147.8 1493,147.5 1494,147.2 1495,148.5 1496,150.0 1497,149.9 1498,150.4 1499,150.2 1500,150.1 1501,151.3 1502,151.1 1503,150.8 1504,149.4 1505,149.1 1506,148.9 1507,148.4 1508,148.2 1509,146.3 1510,118.4 1511,118.7 1512,119.0 1513,118.7 1514,119.0 1515,119.4 1516,121.8 1517,121.7 1518,121.5 1519,119.4 1520,119.2 1521,119.1 1522,118.3 1523,118.1 1524,118.0 1525,119.6 1526,119.4 1527,119.3 1528,119.5 1529,119.3 1530,119.1 1531,116.9 1532,116.7 1533,116.5 1534,116.9 1535,116.7 1536,116.2 1537,115.3 1538,114.3 1539,113.3 1540,106.2 1541,95.1 1542,94.4 1543,93.5 1544,94.0 1545,96.2 1546,105.6 1547,111.0 1548,110.8 1549,111.9 1550,111.7 1551,111.5 1552,108.8 1553,108.6 1554,108.4 1555,110.2 1556,108.1 1557,101.6 1558,94.6 1559,91.0 1560,90.4 1561,90.1 1562,89.5 1563,88.9 1564,90.2 1565,90.8 1566,91.3 1567,90.5 1568,91.0 1569,94.1 1570,102.8 1571,105.7 1572,105.9 1573,105.5 1574,105.6 1575,105.7 1576,105.2 1577,105.3 1578,105.0 1579,102.6 1580,101.3 1581,100.1 1582,95.6 1583,88.5 1584,86.7 1585,86.8 1586,86.4 1587,86.0 1588,84.5 1589,84.1 1590,83.7 1591,84.7 1592,84.3 1593,80.8 1594,76.6 1595,71.2 1596,77.9 1597,85.1 1598,92.2 1599,95.0 1600,96.0 1601,95.8 1602,95.6 1603,96.3 1604,96.1 1605,95.9 1606,95.6 1607,95.4 1608,95.2 1609,92.9 1610,87.9 1611,83.0 1612,79.6 1613,77.0 1614,76.7 1615,76.8 1616,76.5 1617,84.0 1618,86.8 1619,86.6 1620,86.3 1621,87.0 1622,86.7 1623,86.5 1624,88.0 1625,91.0 1626,94.1 1627,94.2 1628,90.7 1629,86.8 1630,87.6 1631,87.1 1632,86.6 1633,84.5 1634,84.0 1635,83.5 1636,84.1 1637,83.5 1638,83.0 1639,83.2 1640,82.7 1641,76.6 1642,71.0 1643,70.9 1644,70.7 1645,71.7 1646,71.5 1647,71.4 1648,76.5 1649,84.8 1650,83.0 1651,81.5 1652,81.4 1653,81.2 1654,81.1 1655,80.9 1656,80.7 1657,81.2 1658,81.1 1659,81.5 1660,80.7 1661,81.2 1662,81.0 1663,78.6 1663,143.3 1662,143.5 1661,143.0 1660,142.4 1659,140.4 1658,140.0 1657,140.0 1656,140.3 1655,140.3 1654,140.3 1653,140.2 1652,140.2 1651,140.2 1650,138.2 1649,138.2 1648,138.2 1647,138.4 1646,138.4 1645,139.9 1644,146.0 1643,149.8 1642,153.6 1641,155.7 1640,157.0 1639,158.2 1638,159.3 1637,160.6 1636,161.8 1635,163.4 1634,164.0 1633,164.0 1632,164.2 1631,164.2 1630,164.2 1629,162.4 1628,162.4 1627,162.4 1626,163.4 1625,163.4 1624,163.4 1623,159.2 1622,155.2 1621,151.2 1620,147.8 1619,147.4 1618,147.9 1617,149.3 1616,149.8 1615,150.3 1614,151.6 1613,152.1 1612,152.3 1611,151.5 1610,151.5 1609,151.5 1608,151.1 1607,151.1 1606,151.1 1605,153.1 1604,153.1 1603,153.1 1602,153.1 1601,152.3 1600,150.8 1599,147.0 1598,145.5 1597,144.0 1596,143.6 1595,142.1 1594,141.6 1593,143.2 1592,146.5 1591,149.9 1590,153.7 1589,157.0 1588,158.2 1587,160.4 1586,160.7 1585,161.1 1584,162.1 1583,162.4 1582,162.8 1581,160.6 1580,161.0 1579,161.3 1578,162.3 1577,162.0 1576,161.5 1575,161.1 1574,160.6 1573,160.1 1572,159.0 1571,158.5 1570,157.6 1569,155.7 1568,154.2 1567,152.7 1566,151.5 1565,150.0 1564,148.5 1563,147.7 1562,151.1 1561,154.4 1560,159.1 1559,162.4 1558,165.7 1557,167.5 1556,169.0 1555,170.5 1554,172.1 1553,171.7 1552,171.2 1551,169.1 1550,168.5 1549,167.9 1548,168.0 1547,167.5 1546,166.9 1545,165.8 1544,165.2 1543,164.6 1542,163.8 1541,163.4 1540,164.8 1539,167.7 1538,169.0 1537,170.3 1536,171.9 1535,175.1 1534,179.5 1533,181.9 1532,186.3 1531,187.4 1530,191.0 1529,191.6 1528,192.3 1527,191.1 1526,190.4 1525,188.4 1524,188.0 1523,186.0 1522,184.0 1521,180.9 1520,180.9 1519,180.9 1518,182.5 1517,182.5 1516,183.6 1515,183.5 1514,186.3 1513,189.1 1512,193.4 1511,195.0 1510,196.2 1509,197.3 1508,198.6 1507,199.8 1506,201.4 1505,202.6 1504,203.0 1503,201.2 1502,200.7 1501,200.2 1500,202.2 1499,201.7 1498,201.2 1497,201.7 1496,207.5 1495,212.0 1494,211.6 1493,213.1 1492,214.6 1491,216.8 1490,218.3 1489,217.6 1488,215.6 1487,214.3 1486,213.1 1485,211.1 1484,209.9 1483,208.6 1482,210.1 1481,208.9 1480,207.6 1479,205.6 1478,208.2 1477,211.1 1476,212.2 1475,214.5 1474,214.5 1473,214.7 1472,214.7 1471,214.7 1470,216.7 1469,216.7 1468,216.7 1467,217.5 1466,218.5 1465,219.5 1464,218.3 1463,219.3 1462,221.8 1461,229.4 1460,234.4 1459,239.3 1458,240.1 1457,240.7 1456,241.4 1455,243.2 1454,243.9 1453,244.6 1452,244.4 1451,245.1 1450,245.7 1449,245.0 1448,245.7 1447,246.1 1446,248.7 1445,248.9 1444,249.1 1443,248.1 1442,248.3 1441,248.6 1440,248.9 1439,249.2 1438,249.4 1437,249.9 1436,250.1 1435,250.3 1434,251.1 1433,251.3 1432,254.8 1431,257.8 1430,261.3 1429,264.8 1428,268.1 1427,271.6 1426,272.5 1425,271.6 1424,272.4 1423,273.3 1422,273.6 1421,274.4 1420,275.2 1419,276.6 1418,277.4 1417,278.3 1416,281.0 1415,281.9 1414,282.7 1413,282.4 1412,283.2 1411,284.0 1410,283.9 1409,284.9 1408,285.9" fill="#ffc000" stroke="none"/>
<polygon points="1408,257.3 1409,256.1 1410,255.0 1411,253.1 1412,251.9 1413,250.8 1414,247.4 1415,246.2 1416,245.1 1417,244.1 1418,242.9 1419,241.8 1420,242.1 1421,240.9 1422,239.8 1423,238.4 1424,237.0 1425,235.5 1426,234.9 1427,233.4 1428,232.0 1429,230.4 1430,228.9 1431,227.5 1432,224.1 1433,222.7 1434,221.2 1435,220.9 1436,219.4 1437,218.0 1438,218.0 1439,216.9 1440,216.4 1441,214.8 1442,214.3 1443,213.8 1444,213.5 1445,213.0 1446,212.5 1447,212.2 1448,211.7 1449,211.2 1450,209.2 1451,208.7 1452,208.2 1453,209.3 1454,207.8 1455,206.0 1456,204.2 1457,202.4 1458,200.6 1459,199.4 1460,197.6 1461,195.8 1462,192.4 1463,191.2 1464,190.4 1465,188.9 1466,188.1 1467,187.3 1468,188.0 1469,187.2 1470,186.3 1471,185.8 1472,185.0 1473,184.1 1474,179.5 1475,173.4 1476,171.9 1477,169.8 1478,169.4 1479,169.1 1480,170.0 1481,169.7 1482,169.3 1483,168.4 1484,168.1 1485,167.7 1486,169.1 1487,164.9 1488,159.8 1489,155.3 1490,151.2 1491,150.9 1492,147.8 1493,147.5 1494,147.2 1495,148.5 1496,151.5 1497,156.0 1498,160.6 1499,165.1 1500,163.1 1501,160.9 1502,158.9 1503,156.9 1504,153.7 1505,152.6 1506,152.5 1507,154.3 1508,154.1 1509,154.0 1510,151.9 1511,151.7 1512,151.5 1513,150.8 1514,150.7 1515,150.5 1516,149.9 1517,148.9 1518,147.9 1519,148.6 1520,147.6 1521,146.6 1522,144.9 1523,144.6 1524,144.3 1525,145.9 1526,145.6 1527,145.2 1528,144.8 1529,144.5 1530,144.1 1531,141.9 1532,141.2 1533,137.8 1534,136.2 1535,132.8 1536,130.4 1537,130.1 1538,129.3 1539,128.4 1540,126.8 1541,126.0 1542,126.3 1543,125.6 1544,126.1 1545,126.6 1546,126.2 1547,126.7 1548,127.2 1549,129.0 1550,129.5 1551,131.1 1552,134.0 1553,136.1 1554,137.6 1555,134.2 1556,131.2 1557,128.2 1558,125.4 1559,122.4 1560,121.0 1561,118.7 1562,118.3 1563,117.9 1564,118.3 1565,117.9 1566,117.5 1567,117.7 1568,117.4 1569,116.1 1570,114.6 1571,112.1 1572,109.5 1573,107.4 1574,107.7 1575,108.0 1576,110.4 1577,110.7 1578,111.6 1579,111.7 1580,113.7 1581,115.7 1582,117.8 1583,119.8 1584,119.6 1585,119.5 1586,118.9 1587,118.2 1588,118.4 1589,114.3 1590,102.1 1591,95.6 1592,95.4 1593,95.1 1594,92.5 1595,92.3 1596,92.0 1597,93.5 1598,94.2 1599,98.9 1600,104.3 1601,109.0 1602,113.6 1603,118.2 1604,118.9 1605,117.9 1606,116.8 1607,115.8 1608,114.8 1609,113.5 1610,112.5 1611,110.5 1612,106.3 1613,101.9 1614,97.6 1615,93.6 1616,89.3 1617,88.3 1618,86.8 1619,86.6 1620,86.3 1621,87.0 1622,86.7 1623,86.5 1624,88.0 1625,91.0 1626,94.1 1627,96.1 1628,96.0 1629,95.5 1630,96.4 1631,95.9 1632,95.4 1633,95.1 1634,94.6 1635,94.4 1636,93.5 1637,93.7 1638,93.9 1639,93.7 1640,93.9 1641,94.1 1642,95.4 1643,95.6 1644,95.0 1645,91.4 1646,89.6 1647,87.9 1648,86.5 1649,84.8 1650,83.0 1651,81.5 1652,81.4 1653,81.2 1654,82.6 1655,82.5 1656,82.4 1657,81.2 1658,81.1 1659,81.5 1660,80.7 1661,81.3 1662,81.9 1663,83.1 1663,143.3 1662,143.5 1661,143.0 1660,142.4 1659,140.4 1658,140.0 1657,140.0 1656,140.3 1655,140.3 1654,140.3 1653,140.2 1652,140.2 1651,140.2 1650,138.2 1649,138.2 1648,138.2 1647,138.4 1646,138.4 1645,139.9 1644,146.0 1643,149.8 1642,153.6 1641,155.7 1640,157.0 1639,158.2 1638,159.3 1637,160.6 1636,161.8 1635,163.4 1634,164.0 1633,164.0 1632,164.2 1631,164.2 1630,164.2 1629,162.4 1628,162.4 1627,162.4 1626,163.4 1625,163.4 1624,163.4 1623,159.2 1622,155.2 1621,151.2 1620,147.8 1619,147.4 1618,147.9 1617,149.3 1616,149.8 1615,150.3 1614,151.6 1613,152.1 1612,152.3 1611,151.5 1610,151.5 1609,151.5 1608,151.1 1607,151.1 1606,151.1 1605,153.1 1604,153.1 1603,153.1 1602,153.1 1601,152.3 1600,150.8 1599,147.0 1598,145.5 1597,144.0 1596,143.6 1595,142.1 1594,141.6 1593,143.2 1592,146.5 1591,149.9 1590,153.7 1589,157.0 1588,158.2 1587,160.4 1586,160.7 1585,161.1 1584,162.1 1583,162.4 1582,162.8 1581,160.6 1580,161.0 1579,161.3 1578,162.3 1577,162.0 1576,161.5 1575,161.1 1574,160.6 1573,160.1 1572,159.0 1571,158.5 1570,157.6 1569,155.7 1568,154.2 1567,152.7 1566,151.5 1565,150.0 1564,148.5 1563,147.7 1562,151.1 1561,154.4 1560,159.1 1559,162.4 1558,165.7 1557,167.5 1556,169.0 1555,170.5 1554,172.1 1553,171.7 1552,171.2 1551,169.1 1550,168.5 1549,167.9 1548,168.0 1547,167.5 1546,166.9 1545,165.8 1544,165.2 1543,164.6 1542,163.8 1541,163.4 1540,164.8 1539,167.7 1538,169.0 1537,170.3 1536,171.9 1535,175.1 1534,179.5 1533,181.9 1532,186.3 1531,187.4 1530,191.0 1529,191.6 1528,192.3 1527,191.1 1526,190.4 1525,188.4 1524,188.0 1523,186.0 1522,184.0 1521,180.9 1520,180.9 1519,180.9 1518,182.5 1517,182.5 1516,183.6 1515,183.5 1514,186.3 1513,189.1 1512,193.4 1511,195.0 1510,196.2 1509,197.3 1508,198.6 1507,199.8 1506,201.4 1505,202.6 1504,203.0 1503,201.2 1502,200.7 1501,200.2 1500,202.2 1499,201.7 1498,201.2 1497,201.7 1496,207.5 1495,212.0 1494,211.6 1493,213.1 1492,214.6 1491,216.8 1490,218.3 1489,217.6 1488,215.6 1487,214.3 1486,213.1 1485,211.1 1484,209.9 1483,208.6 1482,210.1 1481,208.9 1480,207.6 1479,205.6 1478,208.2 1477,211.1 1476,212.2 1475,214.5 1474,214.5 1473,214.7 1472,214.7 1471,214.7 1470,216.7 1469,216.7 1468,216.7 1467,217.5 1466,218.5 1465,219.5 1464,218.3 1463,219.3 1462,221.8 1461,229.4 1460,234.4 1459,239.3 1458,240.1 1457,240.7 1456,241.4 1455,243.2 1454,243.9 1453,244.6 1452,244.4 1451,245.1 1450,245.7 1449,245.0 1448,245.7 1447,246.1 1446,248.7 1445,248.9 1444,249.1 1443,248.1 1442,248.3 1441,248.6 1440,248.9 1439,249.2 1438,249.4 1437,249.9 1436,250.1 1435,250.3 1434,251.1 1433,251.3 1432,254.8 1431,257.8 1430,261.3 1429,264.8 1428,268.1 1427,271.6 1426,272.5 1425,271.6 1424,272.4 1423,273.3 1422,273.6 1421,274.4 1420,275.2 1419,276.6 1418,277.4 1417,278.3 1416,281.0 1415,281.9 1414,282.7 1413,282.4 1412,283.2 1411,284.0 1410,283.9 1409,284.9 1408,285.9" fill="#ff0000" stroke="#ff0000" stroke-width="2"/>
</g>
<g stroke-linecap="round" fill="none">
<line x1="1288" y1="510.5" x2="1419" y2="510.5" stroke="#ffc000" stroke-width="10.5"/>
<line x1="1287" y1="625" x2="1420" y2="625" stroke="#92d050" stroke-width="11.5"/>
<line x1="1288" y1="741.5" x2="1419" y2="741.5" stroke="#ff0000" stroke-width="10.5"/>
</g>
<g font-family="'Liberation Sans', sans-serif" fill="#595959" stroke="#595959" stroke-width="0.6" font-size="53">
<text x="1433" y="526.2" textLength="184" lengthAdjust="spacingAndGlyphs">Ra 93.5</text>
<text x="1433" y="642.5" textLength="184" lengthAdjust="spacingAndGlyphs">Ra 92.4</text>
<text x="1433" y="759" textLength="184" lengthAdjust="spacingAndGlyphs">Ra 95.8</text>
<text transform="translate(224.3,83.0) scale(1.09,1)" text-anchor="end">100</text>
<text transform="translate(224.3,243.7) scale(1.09,1)" text-anchor="end">80</text>
<text transform="translate(224.3,403.0) scale(1.09,1)" text-anchor="end">60</text>
<text transform="translate(224.3,561.9) scale(1.09,1)" text-anchor="end">40</text>
<text transform="translate(224.3,720.7) scale(1.09,1)" text-anchor="end">20</text>
<text transform="translate(224.3,880.4) scale(1.09,1)" text-anchor="end">0</text>
<text transform="translate(219.3,958.7) scale(1.09,1)" letter-spacing="7.9">400</text>
<text transform="translate(448.8,958.7) scale(1.09,1)" letter-spacing="7.9">450</text>
<text transform="translate(678.3,958.7) scale(1.09,1)" letter-spacing="7.9">500</text>
<text transform="translate(907.8,958.7) scale(1.09,1)" letter-spacing="7.9">550</text>
<text transform="translate(1137.3,958.7) scale(1.09,1)" letter-spacing="7.9">600</text>
<text transform="translate(1366.8,958.7) scale(1.09,1)" letter-spacing="7.9">650</text>
<text transform="translate(1596.3,958.7) scale(1.09,1)" letter-spacing="7.9">700</text>
<text x="735" y="1061" font-size="59" textLength="467" lengthAdjust="spacingAndGlyphs">Wavelength(nm)</text>
</g>
<text transform="translate(89.7,885.5) rotate(-90)" font-family="'Liberation Sans', sans-serif" font-size="62" fill="#000" stroke="#000" stroke-width="0.5" textLength="815.5" lengthAdjust="spacingAndGlyphs">Normalized Tansmittance (%)</text>
</g>
</svg>
</body></html>
